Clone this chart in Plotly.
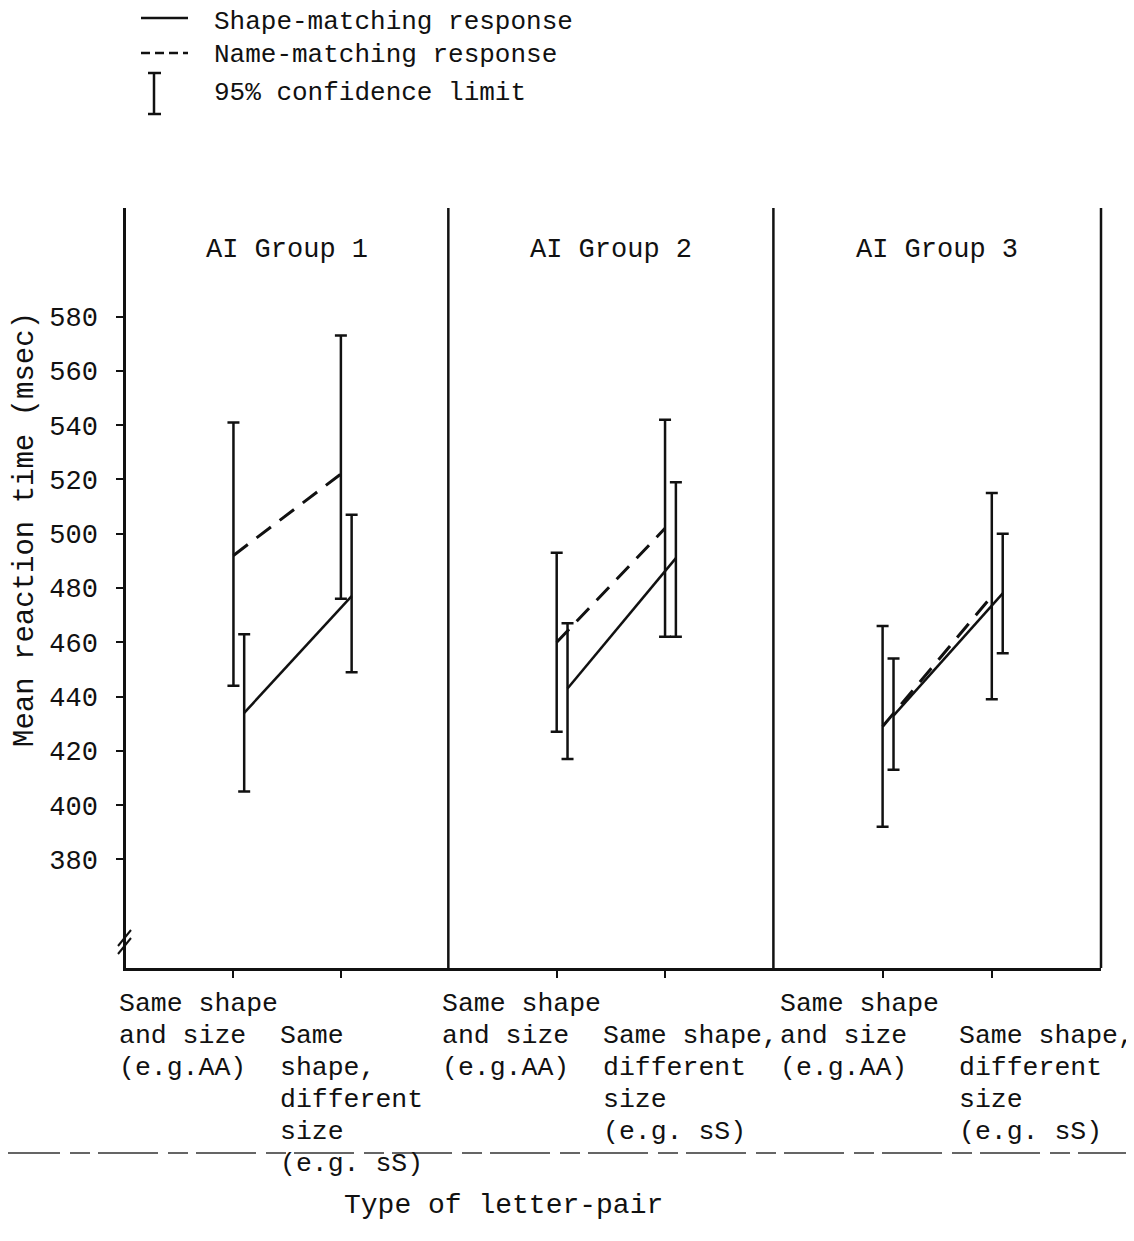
import plotly.graph_objects as go
from plotly.subplots import make_subplots

# ---------------- data ----------------
groups = ["AI Group 1", "AI Group 2", "AI Group 3"]
categories = ["Same shape and size", "Same shape, different size"]

shape_mean = [[434, 477], [443, 491], [433, 478]]
shape_lo = [[405, 449], [417, 462], [413, 456]]
shape_hi = [[463, 507], [467, 519], [454, 500]]

name_mean = [[492, 522], [460, 502], [429, 477]]
name_lo = [[444, 476], [427, 462], [392, 439]]
name_hi = [[541, 573], [493, 542], [466, 515]]

y_ticks = [380, 400, 420, 440, 460, 480, 500, 520, 540, 560, 580]

x_labels = [
    [["Same shape", "and size", "(e.g.AA)"], ["Same", "shape,", "different", "size", "(e.g. sS)"]],
    [["Same shape", "and size", "(e.g.AA)"], ["Same shape,", "different", "size", "(e.g. sS)"]],
    [["Same shape", "and size", "(e.g.AA)"], ["Same shape,", "different", "size", "(e.g. sS)"]],
]
legend_labels = ["Shape-matching response", "Name-matching response", "95% confidence limit"]
y_title = "Mean reaction time (msec)"
x_title = "Type of letter-pair"

# ---------------- style ----------------
FONT = "Liberation Mono"
INK = "#111111"
BODY = 8  # default page margin around the plot div
W, H = 1126, 1233
ML, MR, MT, MB = 118, 33, 200, 273
PW = W - ML - MR
PH = H - MT - MB
SHAPE_OFFSET = 0.1
domains = [[0.0, 0.3306], [0.3306, 0.6640], [0.6640, 1.0]]


def px2paper_x(px):
    return (px - BODY - ML) / PW


def px2paper_y(py):
    return (BODY + H - MB - py) / PH


fig = make_subplots(rows=1, cols=3, shared_yaxes=True, horizontal_spacing=0)

for g in range(3):
    col = g + 1
    xs = list(range(len(categories)))
    # name-matching (dashed)
    fig.add_trace(go.Scatter(
        x=xs, y=name_mean[g], mode="lines",
        line=dict(color=INK, width=3, dash="18px,11px"),
        error_y=dict(type="data", symmetric=False,
                     array=[h - m for h, m in zip(name_hi[g], name_mean[g])],
                     arrayminus=[m - l for m, l in zip(name_mean[g], name_lo[g])],
                     color=INK, thickness=2.5, width=6),
        showlegend=False, hoverinfo="skip"), row=1, col=col)
    # shape-matching (solid)
    fig.add_trace(go.Scatter(
        x=[x + SHAPE_OFFSET for x in xs], y=shape_mean[g], mode="lines",
        line=dict(color=INK, width=2.5),
        error_y=dict(type="data", symmetric=False,
                     array=[h - m for h, m in zip(shape_hi[g], shape_mean[g])],
                     arrayminus=[m - l for m, l in zip(shape_mean[g], shape_lo[g])],
                     color=INK, thickness=2.5, width=6),
        showlegend=False, hoverinfo="skip"), row=1, col=col)

for g in range(3):
    key = "xaxis" if g == 0 else f"xaxis{g+1}"
    fig.layout[key].update(
        domain=domains[g], range=[-1, 2], showline=True, linecolor=INK, linewidth=2.5,
        ticks="outside", tickvals=[0, 1], ticklen=7, tickwidth=2, tickcolor=INK,
        showticklabels=False, showgrid=False, zeroline=False)
    ykey = "yaxis" if g == 0 else f"yaxis{g+1}"
    if g == 0:
        fig.layout[ykey].update(
            range=[340, 620], tickvals=y_ticks, ticks="outside", ticklen=7, tickwidth=2,
            tickcolor=INK, showline=True, linecolor=INK, linewidth=2.5, showgrid=False,
            zeroline=False, ticklabelstandoff=13,
            tickfont=dict(family=FONT, size=27, color=INK))
    else:
        fig.layout[ykey].update(range=[340, 620], showline=False, showticklabels=False,
                                ticks="", showgrid=False, zeroline=False)

shapes = []
# panel separators and right border
for xp in [domains[1][0], domains[2][0], 1.0]:
    shapes.append(dict(type="line", xref="paper", yref="paper", x0=xp, x1=xp, y0=0, y1=1,
                       line=dict(color=INK, width=2.5)))
# axis break marks
for dy in [0, 8]:
    shapes.append(dict(type="line", xref="paper", yref="paper",
                       x0=px2paper_x(118), x1=px2paper_x(131),
                       y0=px2paper_y(946 + dy), y1=px2paper_y(930 + dy),
                       line=dict(color=INK, width=2)))
# scan fold line
shapes.append(dict(type="line", xref="paper", yref="paper",
                   x0=px2paper_x(0), x1=px2paper_x(1134), y0=px2paper_y(1153), y1=px2paper_y(1153),
                   line=dict(color="#333333", width=1.5, dash="60px,10px,20px,8px")))

# legend symbols
shapes.append(dict(type="line", xref="paper", yref="paper",
                   x0=px2paper_x(141), x1=px2paper_x(188), y0=px2paper_y(18), y1=px2paper_y(18),
                   line=dict(color=INK, width=2.5)))
shapes.append(dict(type="line", xref="paper", yref="paper",
                   x0=px2paper_x(141), x1=px2paper_x(188), y0=px2paper_y(53), y1=px2paper_y(53),
                   line=dict(color=INK, width=2.5, dash="9px,5px")))
shapes.append(dict(type="line", xref="paper", yref="paper",
                   x0=px2paper_x(154), x1=px2paper_x(154), y0=px2paper_y(73), y1=px2paper_y(114),
                   line=dict(color=INK, width=2.5)))
for yy in [73, 114]:
    shapes.append(dict(type="line", xref="paper", yref="paper",
                       x0=px2paper_x(148), x1=px2paper_x(161), y0=px2paper_y(yy), y1=px2paper_y(yy),
                       line=dict(color=INK, width=2.5)))

annotations = []
for i, (lab, py) in enumerate(zip(legend_labels, [22, 55, 93])):
    annotations.append(dict(text=lab, xref="paper", yref="paper", x=px2paper_x(212),
                            y=px2paper_y(py), xanchor="left", yanchor="middle", showarrow=False,
                            font=dict(family=FONT, size=26, color=INK)))
for g in range(3):
    annotations.append(dict(text=groups[g], xref=("x domain" if g == 0 else f"x{g+1} domain"),
                            yref="paper", x=0.5, y=px2paper_y(250), xanchor="center",
                            yanchor="middle", showarrow=False,
                            font=dict(family=FONT, size=27, color=INK)))

label_left = [[117, 278], [440, 601], [778, 957]]
label_first_y = [1004, 1036]
LINE_STEP = 32
for g in range(3):
    for c in range(2):
        for k, line in enumerate(x_labels[g][c]):
            annotations.append(dict(text=line, xref="paper", yref="paper",
                                    x=px2paper_x(label_left[g][c]),
                                    y=px2paper_y(label_first_y[c] + k * LINE_STEP),
                                    xanchor="left", yanchor="middle", showarrow=False,
                                    font=dict(family=FONT, size=26.5, color=INK)))

annotations.append(dict(text=y_title, xref="paper", yref="paper", x=px2paper_x(25),
                        y=px2paper_y(530), textangle=-90, xanchor="center", yanchor="middle",
                        showarrow=False, font=dict(family=FONT, size=29, color=INK)))
annotations.append(dict(text=x_title, xref="paper", yref="paper", x=px2paper_x(503),
                        y=px2paper_y(1205), xanchor="center", yanchor="middle",
                        showarrow=False, font=dict(family=FONT, size=28, color=INK)))

fig.update_layout(
    width=W, height=H, margin=dict(l=ML, r=MR, t=MT, b=MB, autoexpand=False),
    paper_bgcolor="white", plot_bgcolor="white", showlegend=False,
    shapes=shapes, annotations=annotations,
    font=dict(family=FONT, color=INK),
)

fig.write_html("out.html")
